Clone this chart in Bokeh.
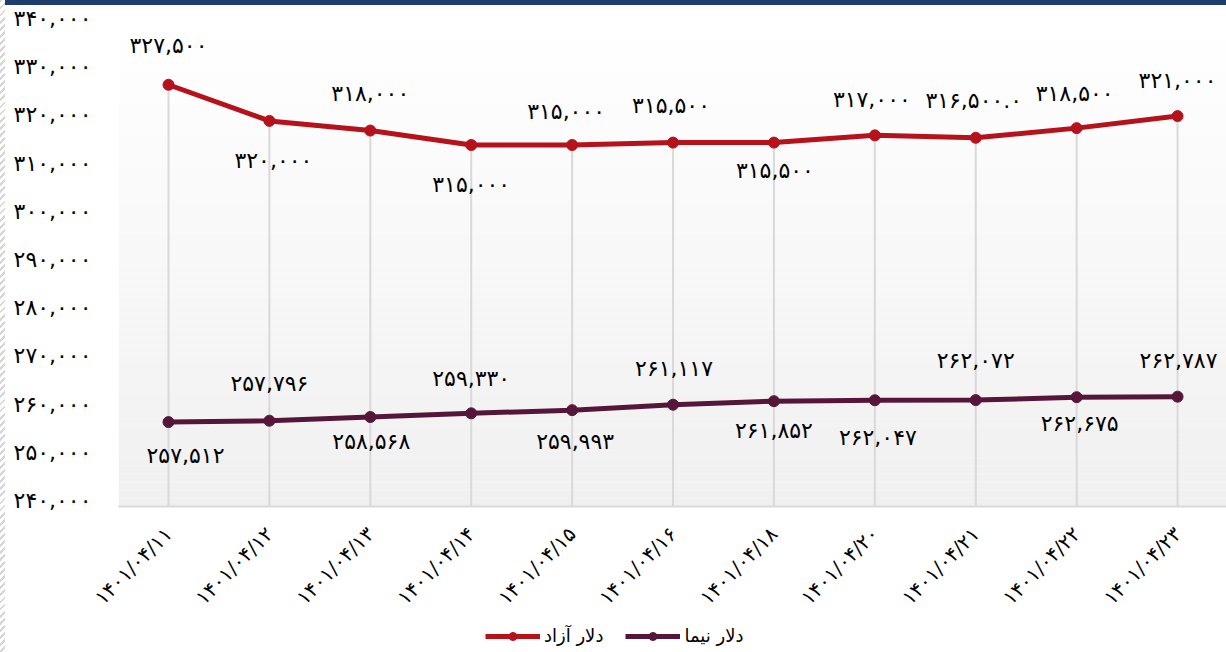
import math
from bokeh.plotting import figure
from bokeh.models import (Range1d, FixedTicker, Legend, LegendItem, Div, ColumnDataSource, LinearAxis)
from bokeh.layouts import row, column
from bokeh.core.properties import value
from bokeh.embed import file_html
from bokeh.resources import INLINE

# ---------------- data ----------------
dates = ["1401/04/11", "1401/04/12", "1401/04/13", "1401/04/14", "1401/04/15",
         "1401/04/16", "1401/04/18", "1401/04/20", "1401/04/21", "1401/04/22",
         "1401/04/23"]
azad = [327500, 320000, 318000, 315000, 315000, 315500, 315500, 317000, 316500, 318500, 321000]
nima = [257512, 257796, 258568, 259330, 259993, 261117, 261852, 262047, 262072, 262675, 262787]
azad_labels = ["327,500", "320,000", "318,000", "315,000", "315,000", "315,500",
               "315,500", "317,000", "316,500.0", "318,500", "321,000"]
nima_labels = ["257,512", "257,796", "258,568", "259,330", "259,993", "261,117",
               "261,852", "262,047", "262,072", "262,675", "262,787"]
y_ticks = [240000, 250000, 260000, 270000, 280000, 290000, 300000, 310000, 320000, 330000, 340000]
series_names = ["دلار آزاد", "دلار نیما"]

# ---------------- label placement (style) ----------------
azad_dx = [0, 4, 0, 0, -6, -2, 1, -3, -2, -2, 0]
azad_dy = [-39, 40, -37, 39, -34, -37, 28, -36, -37, -35, -36]
nima_dx = [17, 0, 1, 0, 3, 1, 0, 3, 0, 3, 1]
nima_dy = [33, -37, 24, -35, 31, -36, 29, 37, -40, 26, -36]

FA = str.maketrans("0123456789", "۰۱۲۳۴۵۶۷۸۹")
def fa(s):
    return str(s).translate(FA)

RED = "#b5121b"
PURPLE = "#55163a"
FONT = "DejaVu Sans"

xs = list(range(len(dates)))
y0, y1 = y_ticks[0], y_ticks[-1]
x0, x1 = -0.4955, 10.485

# 6 px of headroom so the tick labels can sit a little above their values
shift = (y1 - y0) * 6 / 482
p = figure(width=1221, height=620, x_range=Range1d(x0, x1), y_range=Range1d(y0, y1 + shift),
           output_backend="svg", toolbar_location=None, y_axis_location=None,
           min_border_left=113, min_border_right=0, min_border_top=13, min_border_bottom=119)
p.outline_line_color = None
p.grid.visible = False
p.background_fill_color = "#ffffff"
p.border_fill_color = "#ffffff"

# gradient background
n = 60
bands_b, bands_t, cols = [], [], []
for i in range(n):
    b = y0 + (y1 - y0) * i / n
    t = y0 + (y1 - y0) * (i + 1) / n
    f = (i + 0.5) / n
    c = int(round(240 + 15 * f))
    bands_b.append(b); bands_t.append(t); cols.append("#%02x%02x%02x" % (c, c, c))
p.quad(left=x0, right=x1, bottom=bands_b, top=bands_t, fill_color=cols, line_color=None)

# drop lines
p.segment(x0=xs, y0=[y0] * len(xs), x1=xs, y1=azad, line_color="#d9d9d9", line_width=2)

# series
p.line(xs, azad, line_color=RED, line_width=5)
p.scatter(xs, azad, size=11, fill_color=RED, line_color=RED)
p.line(xs, nima, line_color=PURPLE, line_width=5)
p.scatter(xs, nima, size=11, fill_color=PURPLE, line_color=PURPLE)

# data labels
src_a = ColumnDataSource(dict(x=xs, y=azad, t=[fa(s) for s in azad_labels], dx=azad_dx, dy=azad_dy))
src_n = ColumnDataSource(dict(x=xs, y=nima, t=[fa(s) for s in nima_labels], dx=nima_dx, dy=nima_dy))
for src in (src_a, src_n):
    p.text(x="x", y="y", text="t", x_offset="dx", y_offset="dy", source=src,
           text_font=value(FONT), text_font_size="22px", text_color="#000000",
           text_align="center", text_baseline="middle")

# x axis
p.xaxis.ticker = FixedTicker(ticks=xs)
p.xaxis.major_label_overrides = {i: fa(d) for i, d in enumerate(dates)}
p.xaxis.major_label_orientation = math.pi / 4
p.xaxis.axis_line_color = "#d9d9d9"
p.xaxis.axis_line_width = 2
p.xaxis.major_tick_line_color = None
p.xaxis.minor_tick_line_color = None
p.xaxis.major_label_standoff = 18
p.xaxis.major_label_text_font = FONT
p.xaxis.major_label_text_font_size = "20px"
p.xaxis.major_label_text_color = "#000000"

# y axis
p.extra_y_ranges = {"lab": Range1d(y0 - shift, y1)}
yax = LinearAxis(y_range_name="lab", ticker=FixedTicker(ticks=y_ticks),
                 major_label_overrides={v: fa(f"{v:,}") for v in y_ticks},
                 axis_line_color=None, major_tick_line_color=None, minor_tick_line_color=None,
                 major_label_standoff=21, major_label_text_font=FONT,
                 major_label_text_font_size="22px", major_label_text_color="#000000")
p.add_layout(yax, "left")

# legend in its own strip below the chart
lf = figure(width=1221, height=27, x_range=Range1d(0, 1), y_range=Range1d(0, 1),
            output_backend="svg", toolbar_location=None, min_border=0,
            x_axis_location=None, y_axis_location=None)
lf.grid.visible = False
lf.outline_line_color = None
lf.background_fill_color = "#ffffff"
lf.border_fill_color = "#ffffff"
la = lf.line([5, 6], [5, 5], line_color=RED, line_width=5)
lsa = lf.scatter([5], [5], size=11, fill_color=RED, line_color=RED)
ln = lf.line([5, 6], [5, 5], line_color=PURPLE, line_width=5)
lsn = lf.scatter([5], [5], size=11, fill_color=PURPLE, line_color=PURPLE)
legend = Legend(items=[LegendItem(label=series_names[0], renderers=[la, lsa]),
                       LegendItem(label=series_names[1], renderers=[ln, lsn])],
                orientation="horizontal", location=(367, 6),
                glyph_width=55, glyph_height=20, label_height=20, label_text_font=FONT,
                label_text_font_size="18px", label_text_color="#000000",
                label_standoff=4, spacing=22,
                padding=0, margin=0, border_line_color=None, background_fill_alpha=0)
lf.add_layout(legend)

stripe = Div(width=5, height=652, margin=0,
             styles={"background": "repeating-linear-gradient(135deg, #d6d6d6 0px, #d6d6d6 2px, #ffffff 2px, #ffffff 5px)"})
bar = Div(width=1221, height=5, margin=0, styles={"background-color": "#1f3c6e"})
root = row(stripe, column(bar, p, lf, spacing=0), spacing=0,
           styles={"position": "absolute", "left": "0px", "top": "0px"})

open("out.html", "w").write(file_html(root, INLINE))
